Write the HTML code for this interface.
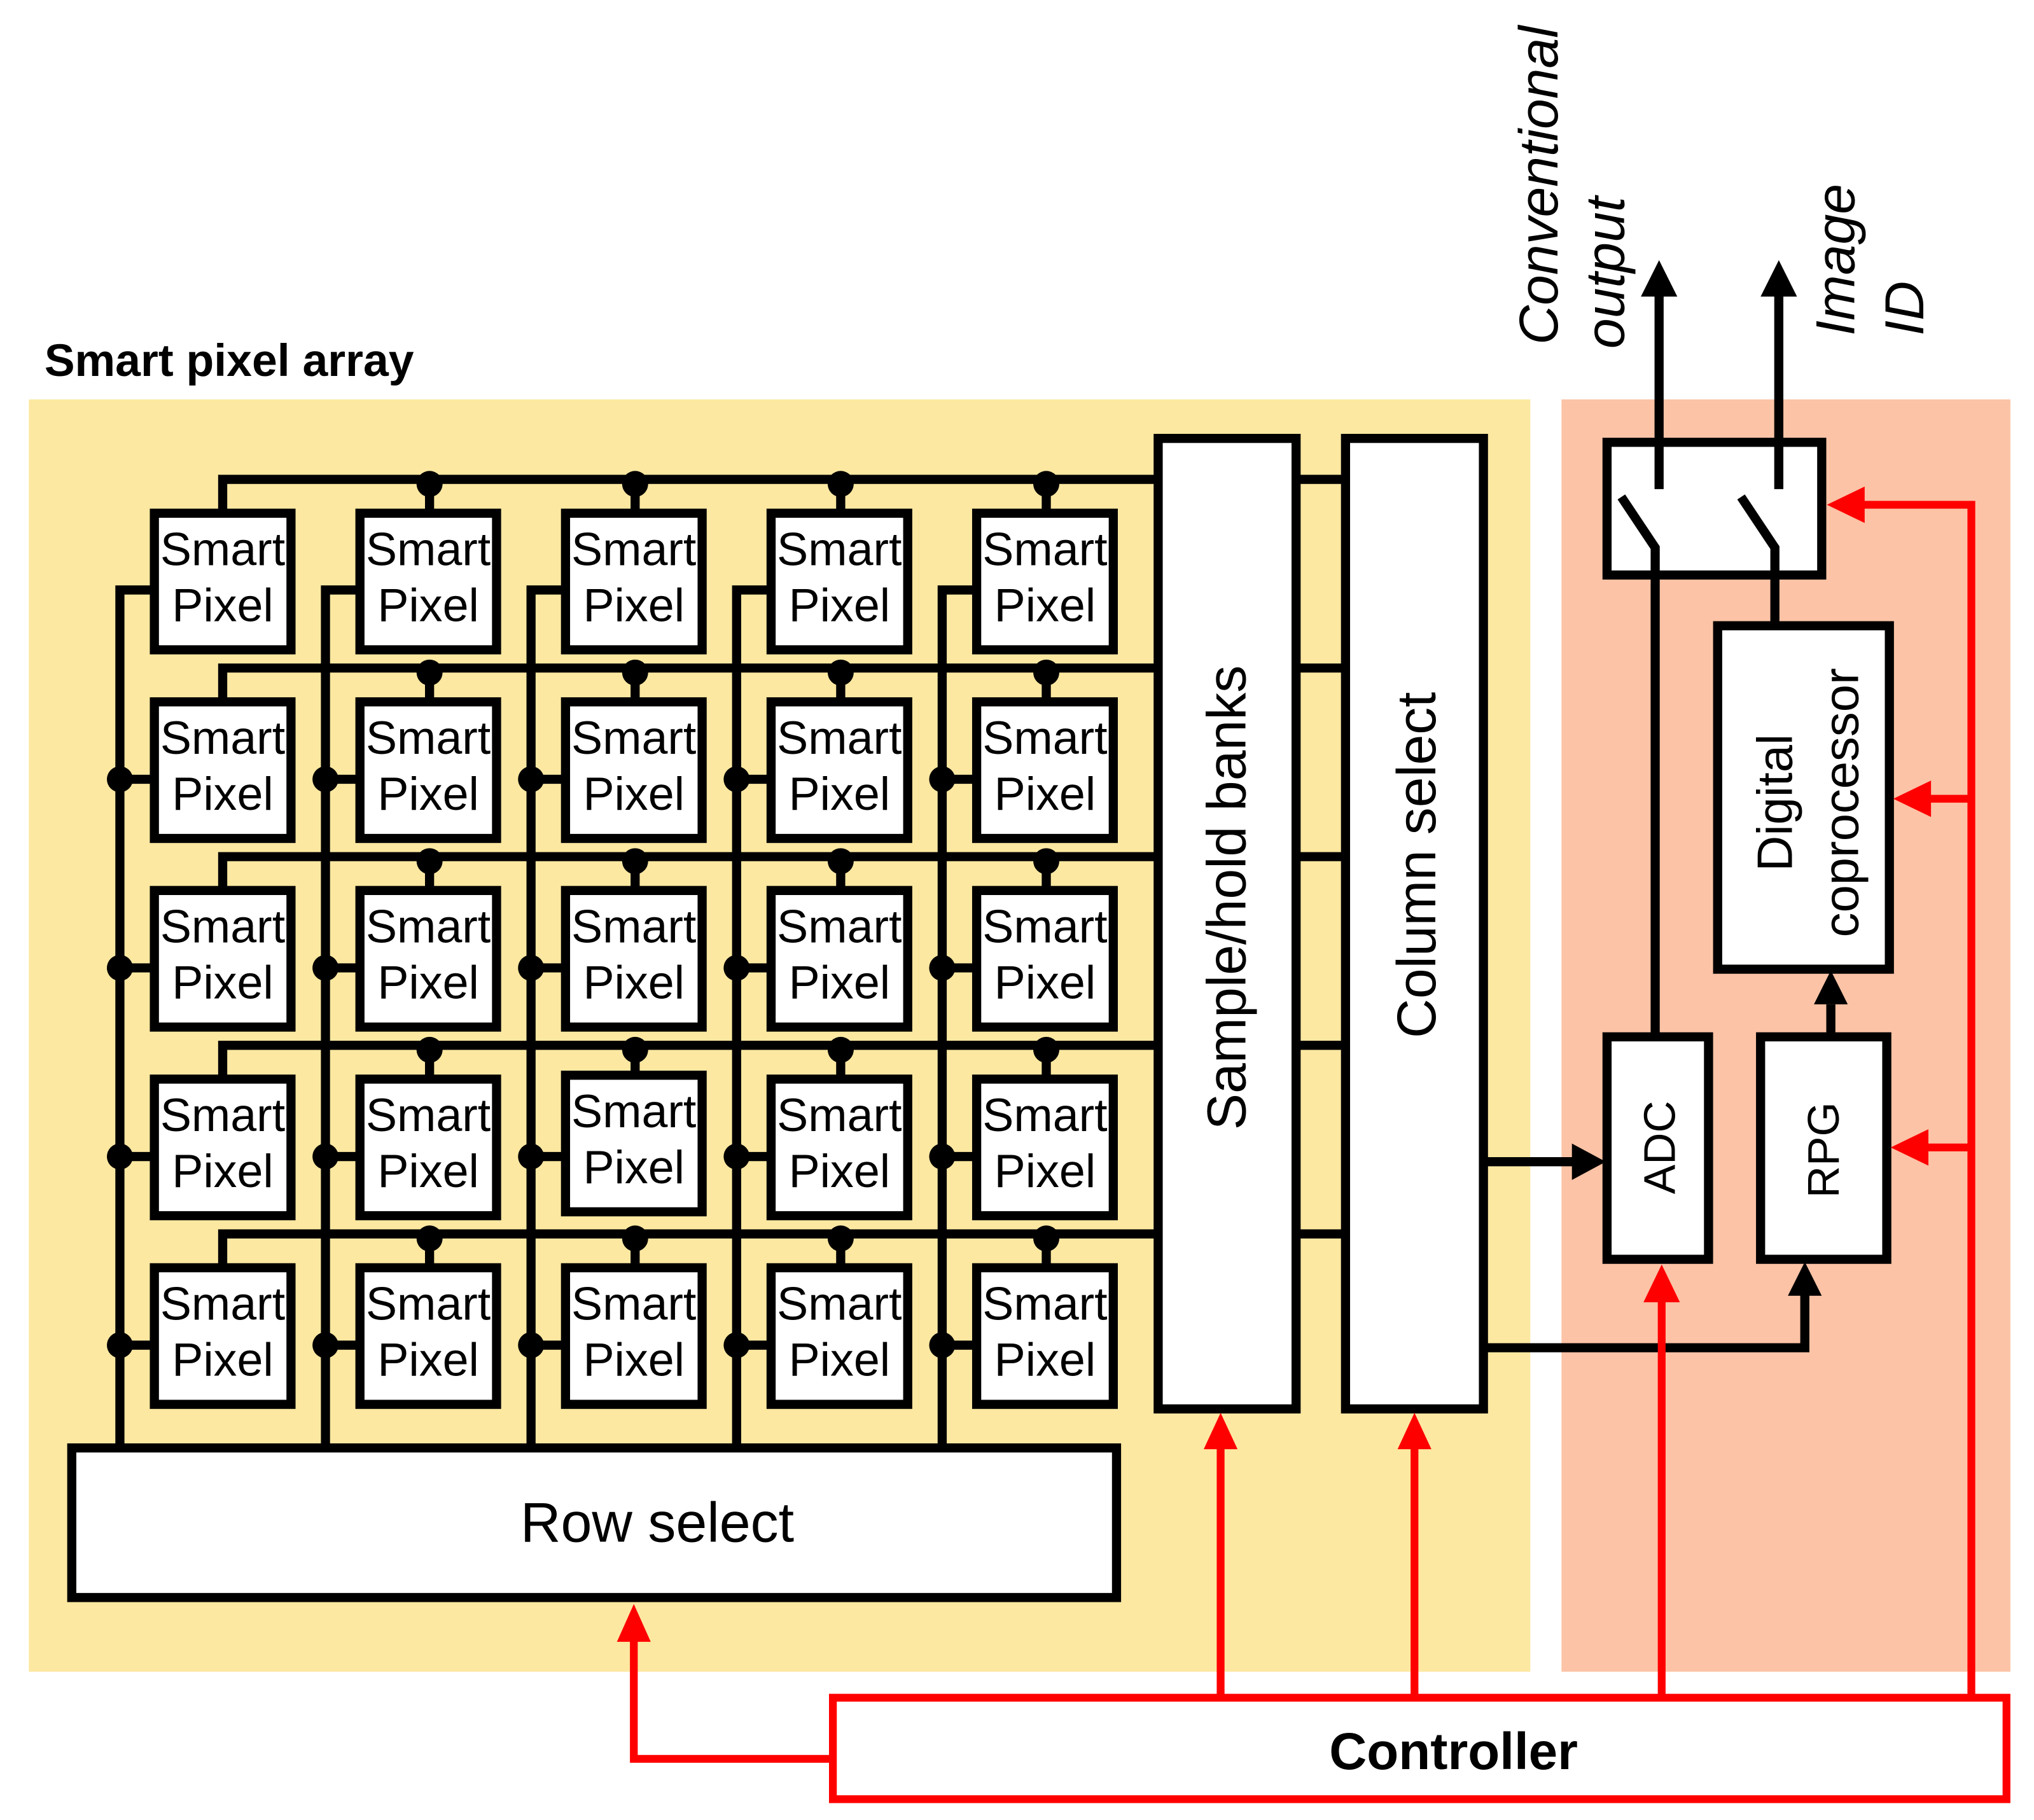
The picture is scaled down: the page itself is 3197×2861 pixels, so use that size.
<!DOCTYPE html>
<html><head><meta charset="utf-8"><style>html,body{margin:0;padding:0;background:#fff}svg{display:block}</style></head>
<body>
<svg width="3197" height="2861" viewBox="0 0 1563 1399" xmlns="http://www.w3.org/2000/svg" font-family="Liberation Sans, Arial, sans-serif">
<rect x="22" y="307" width="1154" height="978" fill="#fde8a1"/>
<rect x="1200" y="307" width="345" height="978" fill="#fcc3a6"/>
<text x="34" y="289" font-size="35" font-weight="bold">Smart pixel array</text>
<g stroke="#000" stroke-width="7" fill="none">
<path d="M171,401 V368.5 H1034 M171,546 V513.5 H1034 M171,691 V658.5 H1034 M171,836 V803.5 H1034 M171,981 V948.5 H1034"/>
<path d="M119,453.5 H92 V1113 M277,453.5 H250 V1113 M435,453.5 H408 V1113 M593,453.5 H566 V1113 M751,453.5 H724 V1113"/>
</g>
<g stroke="#000" stroke-width="7">
<path d="M330,369 V394 M488,369 V394 M646,369 V394 M804,369 V394
M330,514 V539 M488,514 V539 M646,514 V539 M804,514 V539
M330,659 V684 M488,659 V684 M646,659 V684 M804,659 V684
M330,804 V829 M488,804 V829 M646,804 V829 M804,804 V829
M330,949 V974 M488,949 V974 M646,949 V974 M804,949 V974"/>
<path d="M92,599 H119 M250,599 H277 M408,599 H435 M566,599 H593 M724,599 H751
M92,744 H119 M250,744 H277 M408,744 H435 M566,744 H593 M724,744 H751
M92,889 H119 M250,889 H277 M408,889 H435 M566,889 H593 M724,889 H751
M92,1034 H119 M250,1034 H277 M408,1034 H435 M566,1034 H593 M724,1034 H751"/>
</g>
<g fill="#000">
<circle cx="330" cy="372" r="10"/><circle cx="488" cy="372" r="10"/><circle cx="646" cy="372" r="10"/><circle cx="804" cy="372" r="10"/>
<circle cx="330" cy="517" r="10"/><circle cx="488" cy="517" r="10"/><circle cx="646" cy="517" r="10"/><circle cx="804" cy="517" r="10"/>
<circle cx="330" cy="662" r="10"/><circle cx="488" cy="662" r="10"/><circle cx="646" cy="662" r="10"/><circle cx="804" cy="662" r="10"/>
<circle cx="330" cy="807" r="10"/><circle cx="488" cy="807" r="10"/><circle cx="646" cy="807" r="10"/><circle cx="804" cy="807" r="10"/>
<circle cx="330" cy="952" r="10"/><circle cx="488" cy="952" r="10"/><circle cx="646" cy="952" r="10"/><circle cx="804" cy="952" r="10"/>
<circle cx="92" cy="599" r="10"/><circle cx="250" cy="599" r="10"/><circle cx="408" cy="599" r="10"/><circle cx="566" cy="599" r="10"/><circle cx="724" cy="599" r="10"/>
<circle cx="92" cy="744" r="10"/><circle cx="250" cy="744" r="10"/><circle cx="408" cy="744" r="10"/><circle cx="566" cy="744" r="10"/><circle cx="724" cy="744" r="10"/>
<circle cx="92" cy="889" r="10"/><circle cx="250" cy="889" r="10"/><circle cx="408" cy="889" r="10"/><circle cx="566" cy="889" r="10"/><circle cx="724" cy="889" r="10"/>
<circle cx="92" cy="1034" r="10"/><circle cx="250" cy="1034" r="10"/><circle cx="408" cy="1034" r="10"/><circle cx="566" cy="1034" r="10"/><circle cx="724" cy="1034" r="10"/>
</g>
<defs>
<g id="px">
<rect x="0" y="0" width="105" height="105" fill="#fff" stroke="#000" stroke-width="7"/>
<text x="52.5" y="40" font-size="36" text-anchor="middle">Smart</text>
<text x="52.5" y="83" font-size="36" text-anchor="middle">Pixel</text>
</g>
</defs>
<use href="#px" x="118.5" y="394.5"/><use href="#px" x="276.5" y="394.5"/><use href="#px" x="434.5" y="394.5"/><use href="#px" x="592.5" y="394.5"/><use href="#px" x="750.5" y="394.5"/>
<use href="#px" x="118.5" y="539.5"/><use href="#px" x="276.5" y="539.5"/><use href="#px" x="434.5" y="539.5"/><use href="#px" x="592.5" y="539.5"/><use href="#px" x="750.5" y="539.5"/>
<use href="#px" x="118.5" y="684.5"/><use href="#px" x="276.5" y="684.5"/><use href="#px" x="434.5" y="684.5"/><use href="#px" x="592.5" y="684.5"/><use href="#px" x="750.5" y="684.5"/>
<use href="#px" x="118.5" y="829.5"/><use href="#px" x="276.5" y="829.5"/><use href="#px" x="434.5" y="826.5"/><use href="#px" x="592.5" y="829.5"/><use href="#px" x="750.5" y="829.5"/>
<use href="#px" x="118.5" y="974.5"/><use href="#px" x="276.5" y="974.5"/><use href="#px" x="434.5" y="974.5"/><use href="#px" x="592.5" y="974.5"/><use href="#px" x="750.5" y="974.5"/>

<g fill="#fff" stroke="#000" stroke-width="7">
<rect x="55" y="1113" width="803" height="115"/>
<rect x="890" y="337" width="106" height="746"/>
<rect x="1034" y="337" width="106" height="746"/>
<rect x="1235" y="340" width="165" height="102"/>
<rect x="1320" y="481" width="132" height="264"/>
<rect x="1235" y="797" width="78" height="171"/>
<rect x="1353" y="797" width="97" height="171"/>
</g>
<text x="505" y="1185" font-size="43" text-anchor="middle">Row select</text>
<text transform="translate(957,690) rotate(-90)" font-size="42" text-anchor="middle">Sample/hold banks</text>
<text transform="translate(1103,665) rotate(-90)" font-size="42" text-anchor="middle">Column select</text>
<text transform="translate(1377,617) rotate(-90)" font-size="38" text-anchor="middle">Digital</text>
<text transform="translate(1428,617) rotate(-90)" font-size="38" text-anchor="middle">coprocessor</text>
<text transform="translate(1287,882) rotate(-90)" font-size="34" text-anchor="middle">ADC</text>
<text transform="translate(1413,884) rotate(-90)" font-size="34" text-anchor="middle">RPG</text>

<g stroke="#000" stroke-width="7" fill="none">
<path d="M1275,225 V376 M1367,225 V376"/>
<path d="M1246,382 L1272,421 V797"/>
<path d="M1338,382 L1364,421 V481"/>
<path d="M1407,797 V772"/>
<path d="M1140,893 H1210"/>
<path d="M1140,1036 H1387 V995"/>
</g>
<g fill="#000">
<polygon points="1275,200 1261,228 1289,228"/>
<polygon points="1367,200 1353,228 1381,228"/>
<polygon points="1407,746 1394,772 1420,772"/>
<polygon points="1234,893 1208,879 1208,907"/>
<polygon points="1387,970 1374,996 1400,996"/>
</g>
<g font-style="italic" font-size="42">
<text transform="translate(1197,265) rotate(-90)">Conventional</text>
<text transform="translate(1248,268) rotate(-90)">output</text>
<text transform="translate(1425,258) rotate(-90)">Image</text>
<text transform="translate(1478,258) rotate(-90)">ID</text>
</g>

<g stroke="#f00" stroke-width="6" fill="none">
<rect x="640" y="1305" width="902" height="78" fill="#fff"/>
<path d="M640,1352 H487 V1260"/>
<path d="M938,1305 V1112 M1087,1305 V1112 M1277,1305 V1000"/>
<path d="M1515,1305 V388 H1430 M1515,614 H1480 M1515,882 H1478"/>
</g>
<g fill="#f00">
<polygon points="487,1233 474,1262 500,1262"/>
<polygon points="938,1086 925,1114 951,1114"/>
<polygon points="1087,1086 1074,1114 1100,1114"/>
<polygon points="1277,972 1263,1001 1291,1001"/>
<polygon points="1404,388 1433,374 1433,402"/>
<polygon points="1455,614 1484,600 1484,628"/>
<polygon points="1453,882 1482,868 1482,896"/>
</g>
<text x="1117" y="1360" font-size="40" font-weight="bold" text-anchor="middle">Controller</text>
</svg>
</body></html>
